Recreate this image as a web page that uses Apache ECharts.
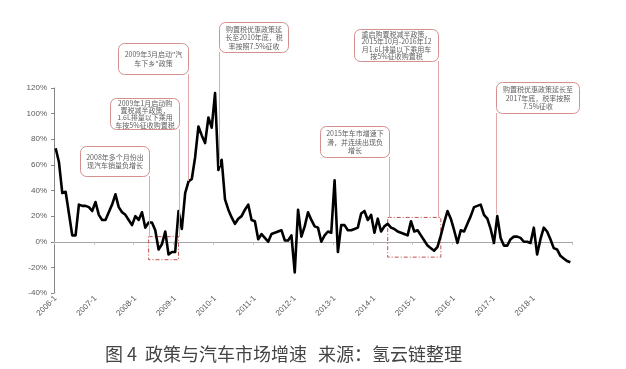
<!DOCTYPE html>
<html>
<head>
<meta charset="utf-8">
<script src="https://cdn.jsdelivr.net/npm/echarts@6/dist/echarts.min.js"></script>
<style>html,body{margin:0;padding:0;background:#fff}#c{width:626px;height:369px}</style>
</head>
<body>
<div id="c"></div>
<script>
// ---- data ----
const startYear = 2006;
const endYear = 2018;
const categories = [];
for (let y = startYear; y <= endYear; y++) for (let m = 1; m <= 12; m++) categories.push(y + '-' + m);

// monthly growth of auto sales, %  (2006-1 .. 2018-12)
const growth = [
  73, 62, 38, 39, 22, 5, 5, 29, 28, 28, 27, 24,          // 2006
  31, 21, 17, 17, 23, 29, 37, 27, 23, 21, 17, 13,        // 2007
  20, 17, 23, 11, 15, 15, 9, -6, -2, 8, -10, -8,         // 2008
  -8, 24, 10, 38, 47, 49, 66, 90, 83, 77, 97, 89,        // 2009
  116, 56, 64, 33, 25, 19, 14, 18, 20, 25, 29, 17,       // 2010
  16, 2, 6, 3, 0, 6, 7, 8, 9, 1, 1, 5,                   // 2011
  -24, 25, 4, 12, 23, 17, 12, 11, 0, 5, 8, 7,            // 2012
  48, -8, 13, 13, 9, 9, 10, 11, 22, 24, 17, 21,          // 2013
  7, 18, 8, 12, 14, 11, 10, 8, 7, 6, 5, 16,              // 2014
  8, 9, 5, 1, -3, -5, -7, -4, 5, 15, 24, 18,             // 2015
  9, -1, 9, 8, 14, 20, 27, 28, 29, 21, 18, 10,           // 2016
  -1, 20, 3, -3, -3, 2, 4, 4, 3, 0, 0, -1,               // 2017
  11, -10, 2, 11, 8, 2, -5, -6, -11, -13, -15, -16       // 2018
];

const yMin = -40, yMax = 120, yStep = 20;

// highlighted periods (category start, category end, value top, value bottom)
const highlight1 = ['2008-5', '2009-2', 4, -14];
const highlight2 = ['2014-5', '2015-9', 19, -12];

const captionParts = ['图 4', '政策与汽车市场增速', '来源：氢云链整理'];

const notes = [
  '2008年多个月份出\n现汽车销量负增长',
  '2009年1月启动购\n置税减半政策，\n1.6L排量以下乘用\n车按5%征收购置税',
  '2009年3月启动"汽\n车下乡"政策',
  '购置税优惠政策延\n长至2010年底，税\n率按照7.5%征收',
  '2015年车市增速下\n滑，并连续出现负\n增长',
  '重启购置税减半政策，\n2015年10月-2016年12\n月1.6L排量以下乘用车\n按5%征收购置税',
  '购置税优惠政策延长至\n2017年底，税率按照\n7.5%征收'
];

// ---- layout (pixels) ----
const boxes = [
  {x: 80, y: 146, w: 69, h: 30},
  {x: 110, y: 98, w: 69, h: 31},
  {x: 118, y: 43, w: 70, h: 31},
  {x: 219, y: 22, w: 69, h: 30},
  {x: 320, y: 126, w: 69, h: 31},
  {x: 354, y: 29, w: 84, h: 32},
  {x: 496, y: 82, w: 83, h: 31}
];
const connectors = [
  [149, 176, 149, 237],
  [179, 129, 179, 237],
  [188, 74, 188, 181],
  [219, 52, 219, 166],
  [389, 157, 389, 218],
  [438, 61, 438, 218],
  [496, 113, 496, 214]
];

const chart = echarts.init(document.getElementById('c'), null, {renderer: 'canvas'});

const graphics = [];
connectors.forEach(c => graphics.push({
  type: 'line', z: 90, silent: true,
  shape: {x1: c[0] + 0.5, y1: c[1], x2: c[2] + 0.5, y2: c[3]},
  style: {stroke: '#e4a9a7', lineWidth: 1}
}));
boxes.forEach((b, i) => {
  graphics.push({
    type: 'rect', z: 100, silent: true,
    shape: {x: b.x + 0.5, y: b.y + 0.5, width: b.w, height: b.h, r: 6},
    style: {fill: '#fff', stroke: '#d58f8d', lineWidth: 1}
  });
  const lines = notes[i].split('\n').length;
  graphics.push({
    type: 'text', z: 101, silent: true,
    style: {
      text: notes[i], x: b.x + b.w / 2 + 0.5, y: b.y + b.h / 2 + 0.5,
      textAlign: 'center', textVerticalAlign: 'middle',
      font: '7px "Noto Sans CJK SC", sans-serif',
      lineHeight: lines >= 4 ? 7.4 : 8.5, fill: '#606060'
    }
  });
});
const capX = [105, 145, 318];
captionParts.forEach((t, i) => graphics.push({
  type: 'text', silent: true,
  style: {text: t, x: capX[i], y: 354, textVerticalAlign: 'middle',
    font: '18px "Noto Sans CJK SC", sans-serif', fill: '#444'}
}));

chart.setOption({
  animation: false,
  backgroundColor: '#fff',
  grid: {left: 54, top: 88, width: 518, height: 205, containLabel: false},
  xAxis: [
    {
      type: 'category', data: categories, boundaryGap: true,
      axisLine: {show: false, onZero: false},
      axisTick: {show: false},
      axisLabel: {interval: 11, rotate: 45, fontSize: 8, color: '#595959',
        fontFamily: '"Liberation Sans", Arial, sans-serif', margin: 4}
    },
    {
      type: 'category', data: categories, boundaryGap: true, position: 'bottom',
      axisLine: {show: true, onZero: true, lineStyle: {color: '#a6a6a6', width: 1}},
      axisTick: {show: true, interval: 11, length: 3, lineStyle: {color: '#bfbfbf'}},
      axisLabel: {show: false}
    }
  ],
  yAxis: {
    type: 'value', min: yMin, max: yMax, interval: yStep,
    axisLine: {show: true, lineStyle: {color: '#868686'}},
    axisTick: {show: true, length: 3, lineStyle: {color: '#868686'}},
    splitLine: {show: false},
    axisLabel: {formatter: '{value}%', fontSize: 8, color: '#595959', margin: 7,
      fontFamily: '"Liberation Sans", Arial, sans-serif'}
  },
  series: [{
    type: 'line', data: growth, xAxisIndex: 0, symbol: 'none',
    lineStyle: {color: '#000', width: 2.6, join: 'round'},
    z: 10,
    markArea: {
      silent: true,
      itemStyle: {color: 'rgba(0,0,0,0)', borderColor: '#c0504d', borderWidth: 1, borderType: [4, 2, 1, 2]},
      data: [
        [{xAxis: highlight1[0], yAxis: highlight1[2]}, {xAxis: highlight1[1], yAxis: highlight1[3]}],
        [{xAxis: highlight2[0], yAxis: highlight2[2]}, {xAxis: highlight2[1], yAxis: highlight2[3]}]
      ]
    }
  }],
  graphic: graphics
});
</script>
</body>
</html>
